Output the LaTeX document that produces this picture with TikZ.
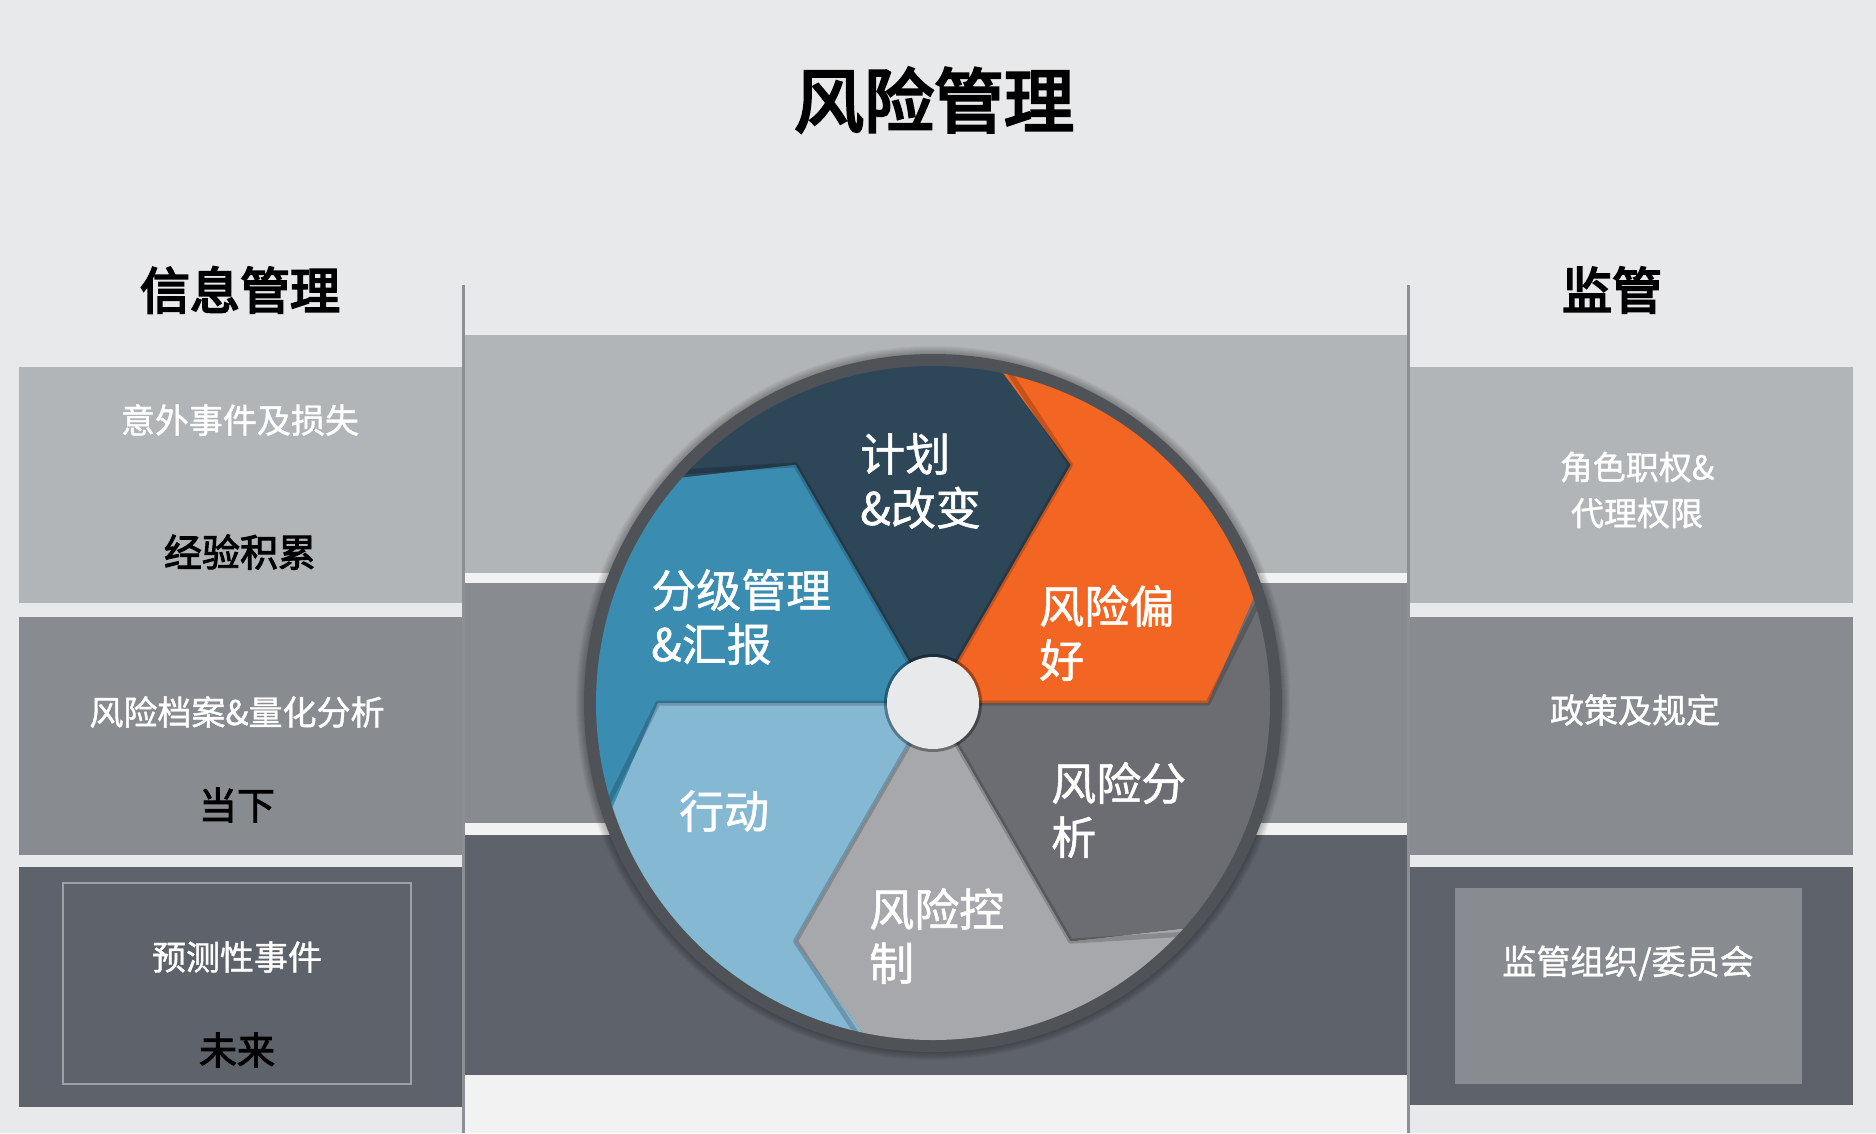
\documentclass[tikz,border=0pt]{standalone}
\usepackage{fontspec}
\setmainfont{Noto Sans CJK SC}
\newfontfamily\heavyfont[FakeBold=4]{Noto Sans CJK SC}
\newfontfamily\medfont[FakeBold=2.5]{Noto Sans CJK SC}
\newfontfamily\lightbold[FakeBold=1.2]{Noto Sans CJK SC}
\definecolor{bg}{HTML}{E8E9EB}
\definecolor{lband}{HTML}{B2B5B7}
\definecolor{mband}{HTML}{888B8F}
\definecolor{dband}{HTML}{5E626A}
\definecolor{gapc}{HTML}{F2F2F3}
\definecolor{edgec}{HTML}{8C8F93}
\definecolor{navy}{HTML}{2D4658}
\definecolor{orng}{HTML}{F26522}
\definecolor{dgray}{HTML}{6B6D72}
\definecolor{lgray}{HTML}{A6A8AB}
\definecolor{lblue}{HTML}{85B8D3}
\definecolor{mblue}{HTML}{3A8CB1}
\definecolor{rimc}{HTML}{4F5257}
\definecolor{framec}{HTML}{9EA1A6}
\begin{document}
\begin{tikzpicture}[x=1pt,y=-1pt,
  titletxt/.style={font=\heavyfont\fontsize{70}{80}\selectfont, text=black, inner sep=0},
  headtxt/.style={font=\heavyfont\fontsize{50}{60}\selectfont, text=black, inner sep=0},
  whitetxt/.style={font=\lightbold\fontsize{34}{46}\selectfont, text=white, inner sep=0, align=center},
  blacktxt/.style={font=\medfont\fontsize{38}{46}\selectfont, text=black, inner sep=0},
  segtxt/.style={font=\lightbold\fontsize{45}{54}\selectfont, text=white, inner sep=0, align=left, anchor=west},
]
\useasboundingbox (0,0) rectangle (1876,1133);
\fill[bg] (0,0) rectangle (1876,1133);

% centre bands
\fill[lband] (463,335) rectangle (1407,573);
\fill[gapc] (463,573) rectangle (1407,583);
\fill[mband] (463,583) rectangle (1407,823);
\fill[gapc] (463,823) rectangle (1407,835);
\fill[dband] (463,835) rectangle (1407,1075);
\fill[gapc] (463,1075) rectangle (1407,1133);

% left column
\fill[lband] (19,367) rectangle (462,603);
\fill[mband] (19,617) rectangle (462,855);
\fill[dband] (19,867) rectangle (462,1107);
\draw[framec, line width=1.5] (63,883) rectangle (411,1084);

% right column
\fill[lband] (1410,367) rectangle (1853,603);
\fill[mband] (1410,617) rectangle (1853,855);
\fill[dband] (1410,867) rectangle (1853,1105);
\fill[mband] (1455,888) rectangle (1802,1084);

% vertical edge lines
\draw[edgec, line width=3] (463,285) -- (463,1133);
\draw[edgec, line width=3] (1408,285) -- (1408,1133);

% wheel
\begin{scope}[shift={(933,703)}, yscale=-1]
  \foreach \k in {1,...,8}{\fill[black, opacity=0.035] (0,0) circle (349+\k);}
  \fill[rimc] (0,0) circle (349);
  \foreach \a/\c in {0/orng,60/navy,120/mblue,180/lblue,240/lgray,300/dgray}{
    \fill[\c] (0,0) -- (\a:275) -- (\a+18:337) arc[start angle=\a+18, end angle=\a+78, radius=337] -- (\a+60:275) -- cycle;
  }
  \begin{scope}
    \clip (0,0) circle (337);
    \foreach \a in {0,60,...,300}{
      \draw[black, opacity=0.18, line width=5, line join=round] (0,0) -- (\a:275) -- (\a+18:345);
    }
  \end{scope}
  \fill[black, opacity=0.35] (0,0) circle (49);
  \fill[bg] (0,0) circle (46);
\end{scope}

% texts
\node[titletxt] (title) at (934,100) {风险管理};
\node[headtxt] (hleft) at (240,290) {信息管理};
\node[headtxt] (hright) at (1612,290) {监管};

\node[whitetxt] (l1a) at (240,420) {意外事件及损失};
\node[blacktxt] (l1b) at (240,552) {经验积累};
\node[whitetxt] (l2a) at (237,712) {风险档案\&量化分析};
\node[blacktxt] (l2b) at (237,805) {当下};
\node[whitetxt] (l3a) at (237,957) {预测性事件};
\node[blacktxt] (l3b) at (237,1050) {未来};

\node[whitetxt, font=\lightbold\fontsize{33}{46}\selectfont] (r1) at (1637,490) {角色职权\&\\代理权限};
\node[whitetxt] (r2) at (1635,710) {政策及规定};
\node[whitetxt] (r3) at (1628,963) {监管组织/委员会};

\node[segtxt] (s1) at (860,481) {计划\\\&改变};
\node[segtxt] (s2) at (651,617) {分级管理\\\&汇报};
\node[segtxt] (s3) at (1039,633) {风险偏\\好};
\node[segtxt] (s4) at (1051,810) {风险分\\析};
\node[segtxt] (s5) at (869,936) {风险控\\制};
\node[segtxt] (s6) at (679,811) {行动};
\end{tikzpicture}
\end{document}
